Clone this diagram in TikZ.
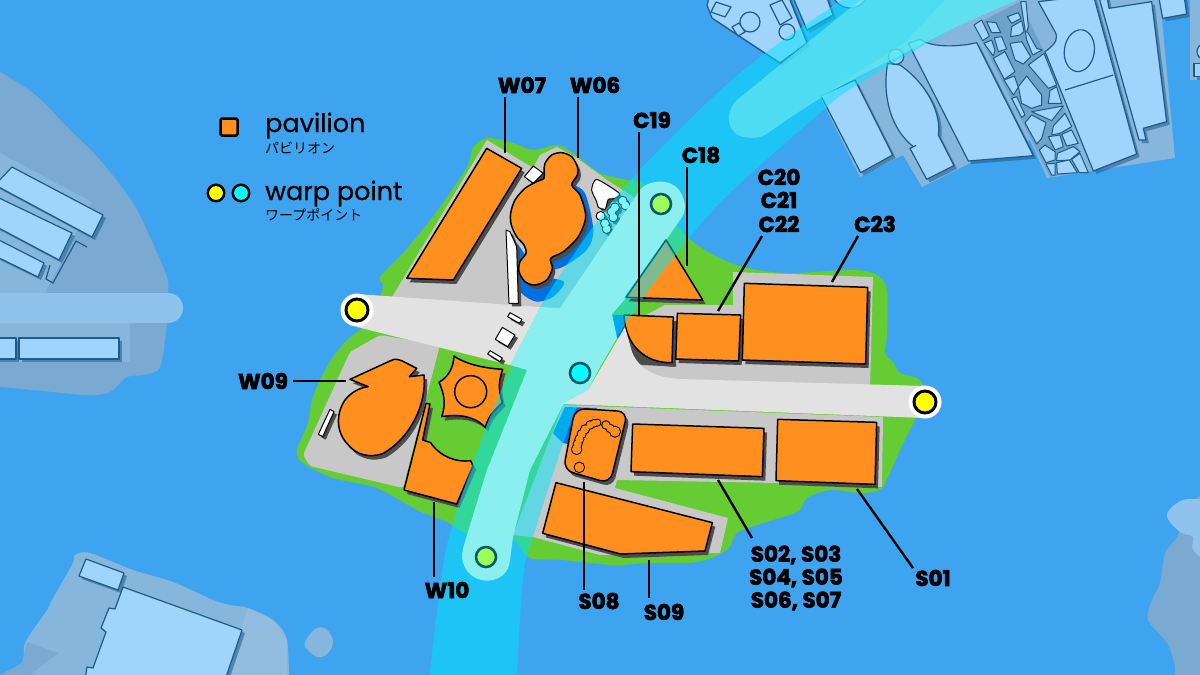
\documentclass[tikz,border=0pt]{standalone}
\usepackage{fontspec}
\setmainfont{Poppins}
\newfontfamily\labf[BoldFeatures={FakeBold=3}]{Poppins}
\newfontfamily\legf[FakeBold=0.6]{Poppins}
\newfontfamily\jpf{Noto Sans CJK JP}
\definecolor{water}{HTML}{3FA4F0}
\definecolor{grass}{HTML}{66CC33}
\definecolor{plat}{HTML}{C8C8C8}
\definecolor{roadc}{HTML}{E2E2E2}
\definecolor{orng}{HTML}{FF9020}
\definecolor{aquac}{HTML}{8AEFEE}
\definecolor{isl}{HTML}{86B6DC}
\definecolor{isld}{HTML}{7AA9D2}
\definecolor{paler}{HTML}{8FC3EC}
\definecolor{bfill}{HTML}{A0D4FA}
\definecolor{bline}{HTML}{1F5A88}
\definecolor{bandc}{HTML}{00E5FF}
\definecolor{pool}{HTML}{0070E0}
\definecolor{tealk}{HTML}{0B5A66}
\definecolor{warpcy}{HTML}{00FFFF}
\definecolor{warpye}{HTML}{FFFF00}
\definecolor{warpgr}{HTML}{9BFF5A}
\tikzset{
 z/.style args={#1/#2}{shift={(#1,#2)},x=.33333pt,y=-.33333pt},
 bsh/.style={fill=bline,fill opacity=.55,draw=none},
 bst/.style={fill=bfill,draw=bline,line width=1.2pt,line join=round},
 cellst/.style={fill=bfill,draw=bline,line width=1pt,line join=round},
 psh/.style={fill=black!70,draw=none},
 pst/.style={fill=orng,draw=black,line width=1.5pt,line join=round},
 wst/.style={fill=white,draw=black,line width=1pt,line join=round},
 leader/.style={draw=black,line width=2.4pt},
 lab/.style={font=\labf\bfseries\fontsize{21.5}{23}\selectfont,inner sep=1pt,text=black},
 warpy/.style={circle,fill=warpye,draw=black,line width=3pt,minimum size=22pt,inner sep=0pt},
 warpc/.style={circle,fill=warpcy,draw=tealk,line width=2.6pt,minimum size=20pt,inner sep=0pt},
 warpg/.style={circle,fill=warpgr,draw=tealk,line width=2.6pt,minimum size=20pt,inner sep=0pt},
 legt/.style={anchor=base west,inner sep=0pt,font=\legf\fontsize{25.5}{27}\selectfont},
 legj/.style={anchor=base west,inner sep=0pt,font=\jpf\fontsize{14}{16}\selectfont},
}
\newcommand\pl[1]{plot coordinates {#1} -- cycle}
\newcommand\bld[1]{\fill[bsh,xshift=3pt,yshift=-3pt] #1; \draw[bst] #1;}
\newcommand\pav[1]{\fill[psh,xshift=3pt,yshift=-4pt] #1; \draw[pst] #1;}
\newcommand\whb[1]{\fill[psh,xshift=3pt,yshift=-3pt] #1; \draw[wst] #1;}
\newcommand\cl[1]{\draw[cellst] \pl{#1};}
\newcommand\bandpath{plot[smooth,tension=.6] coordinates {(428,690) (441,580) (453,523) (485,430) (510,370) (540,307) (593,227) (637,173) (710,100) (763,55) (830,8) (860,-12)} -- plot[smooth,tension=.6] coordinates {(1040,-10) (960,25) (857,85) (820,113) (733,190) (690,237) (643,298) (612,345) (577,406) (533,537) (523,580) (516,690)} -- cycle}
\newcommand\lead[3]{\coordinate (s#1) at (#2); \coordinate (e#1) at (#3); \draw[leader] (s#1) -- (e#1);}
\begin{document}
\begin{tikzpicture}[x=1pt,y=-1pt]
\useasboundingbox (0,0) rectangle (1200,675);
\clip (0,0) rectangle (1200,675);
\fill[water] (0,0) rectangle (1200,675);

% west island
\fill[isld] plot[smooth,tension=.5] coordinates {(-20,60) (33,93) (67,127) (100,160) (133,203) (150,237) (167,277) (168,293) (167,323) (160,367) (143,375) (127,377) (110,392) (87,395) (33,390) (-20,385)} -- cycle;
\fill[isl] (0,153) -- (92,202) -- (45,293) -- (0,293) -- cycle;
\fill[isl] (0,323) rectangle (130,362);
\bld{\pl{(12,167) (103,215) (92,237) (-5,185)}}
\bld{\pl{(-5,196) (72,233) (59,260) (-5,226)}}
\bld{\pl{(-5,238) (44,263) (38,277) (-5,256)}}
\draw[bst,fill=none] (87,247) -- (76,241) -- (53,283) -- (46,279) -- (50,265);
\bld{\pl{(-5,338) (16,338) (16,359) (-5,359)}}
\bld{\pl{(19,338) (119,338) (119,359) (19,359)}}
\fill[paler,rounded corners=15pt] (-20,293) rectangle (183,323);

% south-west island
\fill[isl] plot[smooth,tension=.5] coordinates {(-10,680) (22,663) (25,643) (47,610) (52,600) (72,565) (75,555) (90,553) (133,570) (173,582) (213,600) (230,605) (248,608) (273,620) (287,640) (289,690)} -- cycle;
\fill[isld] (27,642) -- (58,653) -- (30,675) -- (0,675) -- (22,663) -- cycle;
\fill[isl!90!white] (248,608) -- (225,675) -- (287,675) -- (287,640) -- (273,620) -- cycle;
\bld{\pl{(86,559) (124,573) (118,590) (79,576)}}
\bld{\pl{(123,587) (242,630) (225,680) (85,680) (87,667) (93,668) (106,632) (101,628) (109,608) (115,609)}}
\fill[isl] plot[smooth cycle,tension=.8] coordinates {(306,640) (321,627) (333,642) (322,657) (308,650)};

% south-east corner island
\fill[isld] plot[smooth,tension=.5] coordinates {(1210,488) (1193,503) (1177,537) (1165,553) (1160,583) (1152,600) (1148,620) (1167,643) (1175,667) (1175,690) (1210,690)} -- cycle;
\fill[paler] plot[smooth,tension=.6] coordinates {(1210,500) (1183,500) (1167,515) (1180,532) (1193,537) (1193,550) (1210,565)} -- cycle;

% north-east islands
\fill[isl] (905,42) -- (950,-5) -- (1160,-5) -- (1162,20) -- (1175,158) -- (1047,178) -- (1030,140) -- (970,163) -- (922,187) -- (903,155) -- (860,177) -- (820,97) -- cycle;
\fill[isl] (1190,-5) rectangle (1205,80);
\bld{\pl{(707,5) (712,18) (780,63) (807,43) (788,-5) (710,-5)}}
\draw[bst] (716,2) -- (731,7) -- (725,17) -- (711,12) -- cycle;
\draw[bst] (750,22) circle (10);
\draw[bst] (732,27) -- (739,23) -- (745,32) -- (738,36) -- cycle;
\draw[bst] (770,5) -- (782,0) -- (792,18) -- (780,25) -- cycle;
\draw[bst] (787,32) circle (8);
\bld{\pl{(792,-5) (807,30) (833,15) (826,-5)}}
\draw[bst] (850,-10) circle (18);
\begin{scope}[z=700/0]
\bld{\pl{(363,288) (465,240) (578,465) (482,518)}}
\bld{(563,190) .. controls (545,290) and (575,390) .. (640,440) -- (647,437) -- (630,445) -- (680,538) -- (762,497) -- (715,405) .. controls (725,340) and (680,250) .. (600,195) -- cycle}
\draw[bst] (588,170) circle (23);
\bld{(625,130) -- (660,118) .. controls (700,145) and (780,140) .. (830,128) -- (1000,467) -- (805,483) -- cycle}
\end{scope}
\begin{scope}[z=960/0]
\fill[bline,opacity=.22] (42,75) -- (180,5) -- (250,150) -- (380,515) -- (270,530) -- cycle;
\cl{(42,75) (65,60) (88,108) (68,122)}
\cl{(80,65) (108,68) (122,98) (95,98)}
\cl{(72,130) (95,120) (105,150) (100,168)}
\cl{(103,113) (125,110) (140,147) (115,155)}
\cl{(100,175) (135,155) (165,215) (133,238)}
\cl{(132,240) (163,228) (175,262) (160,285)}
\cl{(155,295) (170,290) (195,345) (185,352)}
\cl{(150,130) (185,125) (212,170) (190,192) (165,180)}
\cl{(142,50) (175,38) (183,55) (155,70)}
\cl{(155,80) (185,62) (192,95) (180,105) (152,110)}
\cl{(182,5) (198,5) (205,80) (200,95) (205,100) (230,145) (247,150) (218,165) (200,120)}
\cl{(205,195) (252,160) (290,255) (265,265)}
\cl{(200,228) (245,285) (245,315) (215,325) (185,310) (175,260)}
\cl{(270,272) (290,260) (305,310) (265,310)}
\cl{(215,335) (310,318) (275,362)}
\cl{(195,368) (215,345) (258,368) (245,415) (230,432)}
\cl{(280,378) (315,340) (335,380) (300,400) (275,405)}
\cl{(265,410) (300,405) (310,440) (285,450)}
\cl{(305,403) (335,390) (355,430) (320,438)}
\cl{(238,450) (255,435) (285,455) (285,480) (258,488)}
\cl{(292,460) (340,440) (360,455) (330,480) (290,482)}
\cl{(258,492) (285,490) (285,525) (275,525)}
\cl{(290,488) (328,480) (352,518) (292,522)}
\cl{(335,478) (360,460) (385,518) (358,518)}
\bld{(235,5) -- (400,-15) -- (530,462) -- (400,513) -- (255,155) .. controls (290,130) and (295,115) .. (285,95) -- cycle}
\draw[bst,fill=none] (358,152) ellipse [x radius=45,y radius=63,rotate=-8];
\draw[bst] (315,270) -- (460,225);
\bld{\pl{(415,-15) (440,-15) (447,25) (575,5) (620,365) (550,385) (558,420) (537,420)}}
\bld{\pl{(595,-15) (672,-15) (680,42) (608,55)}}
\bld{\pl{(702,190) (730,190) (730,230) (702,230)}}
\draw[bst] (735,155) circle (24);
\end{scope}

% central island
\fill[grass] plot[smooth cycle,tension=.5] coordinates {(473,148) (487,138) (513,143) (533,150) (557,145) (573,153) (600,173) (627,180) (645,185) (682,232) (710,253) (743,267) (787,273) (853,270) (877,275) (887,290) (887,333) (885,353) (893,362) (900,373) (920,380) (925,400) (915,420) (900,450) (888,477) (880,490) (860,493) (830,490) (807,498) (797,512) (763,523) (737,533) (727,550) (697,562) (647,563) (613,565) (563,560) (530,558) (513,540) (470,535) (447,522) (417,510) (377,488) (333,478) (303,463) (297,450) (308,423) (312,400) (320,380) (333,357) (347,340) (370,320) (383,287) (380,277) (403,253) (420,233) (440,207) (467,167)};
% platforms
\fill[plat] (389,302) -- (487,140) -- (533,168) -- (540,155) -- (557,147) -- (577,158) -- (607,180) -- (635,198) -- (560,308) -- cycle;
\fill[plat,rounded corners=3pt] (350,352) -- (380,335) -- (440,345) -- (403,488) -- (310,466) -- (303,455) -- cycle;
\fill[plat] (563,405) -- (883,417) -- (882,487) -- (778,483) -- (617,480) -- (615,488) -- (728,518) -- (720,553) -- (600,555) -- (533,537) -- (513,535) -- cycle;
\fill[plat] (733,272) -- (873,277) -- (870,390) -- (640,385) -- (617,330) -- (665,305) -- (733,305) -- cycle;
% pools
\begin{scope}[z=340/130]
\fill[pool] plot[smooth,tension=.5] coordinates {(690,160) (735,190) (760,300) (740,360) (670,410) (630,420)} -- cycle;
\fill[pool] plot[smooth,tension=.5] coordinates {(532,340) (530,450) (545,490) (590,515) (640,500) (672,455) (600,440)} -- cycle;
\end{scope}
\fill[pool] (612,315) -- (632,315) -- (632,335) -- (617,338) -- cycle;
\fill[pool] (565,407) -- (597,408) -- (573,445) -- (563,443) -- (553,433) -- cycle;
% whites in the band
\begin{scope}[z=340/130]
\whb{plot[smooth cycle,tension=.4] coordinates {(770,148) (838,190) (825,205) (805,208) (800,225) (795,238) (775,232) (770,215) (755,180)}}
\foreach \cx/\cy in {848/212,856/226,825/232,815/245,820/262,782/258,795/280,800/297}{
  \fill[psh,xshift=3pt,yshift=-3pt] (\cx,\cy) circle (13);}
\foreach \cx/\cy in {848/212,856/226,825/232,815/245,820/262,782/258,795/280,800/297}{
  \draw[wst,line width=1.2pt] (\cx,\cy) circle (13);}
\foreach \cx/\cy in {848/212,856/226,825/232,815/245,820/262,782/258,795/280,800/297}{
  \fill[white] (\cx,\cy) circle (11.5);}
\end{scope}
% pavilions beneath the band
\begin{scope}[z=300/340]
\pav{(462,48) .. controls (500,75) and (560,85) .. (608,88) .. controls (595,125) and (595,150) .. (607,188) .. controls (590,205) and (565,225) .. (556,262) .. controls (520,225) and (470,222) .. (425,230) .. controls (440,190) and (430,155) .. (417,127) .. controls (445,110) and (460,85) .. (462,48) -- cycle}
\draw[black,line width=1.5pt] (512,155) circle (48);
\pav{(378,190) -- (390,192) -- (368,300) -- (392,308) .. controls (420,350) and (470,368) .. (512,362) -- (519,378) -- (470,492) -- (312,450) -- cycle}
\end{scope}
\begin{scope}[z=600/180]
\fill[psh] (76,440) -- (78,520) .. controls (82,545) and (100,552) .. (130,555) -- (228,560) -- (228,530) -- cycle;
\pav{(72,405) -- (220,411) -- (216,548) .. controls (130,550) and (75,490) .. (72,405) -- cycle}
\end{scope}

% translucent band
\fill[bandc,opacity=.5] \bandpath;
% light strip
\fill[aquac!85!cyan,opacity=.55] (768,133) .. controls (800,110) and (830,92) .. (857,77) -- (960,25) -- (1017,0) -- (860,0) -- (737,100) .. controls (722,115) and (730,137) .. (745,137) .. controls (752,139) and (762,138) .. (768,133) -- cycle;
% aqua track
\fill[aquac] (462,557) .. controls (462,550) and (464,545) .. (467,535) -- (487,470) -- (527,370) -- (510,365) -- (540,307) -- (560,308) -- (640,190) .. controls (650,178) and (675,178) .. (682,195) .. controls (686,205) and (686,212) .. (682,217) -- (627,297) -- (612,314) -- (617,338) -- (600,367) -- (588,390) -- (563,405) -- (530,470) -- (513,537) -- (510,560) .. controls (508,588) and (465,588) .. (462,557) -- cycle;
% roads
\fill[roadc] (357,294) -- (540,307) -- (510,365) -- (357,327) -- cycle;
\fill[roadc] (357,310) circle (16);
\fill[roadc] (625,327) -- (632,352) .. controls (640,372) and (660,378) .. (680,379) -- (925,386) -- (925,418) -- (563,404) -- (588,390) -- cycle;
\fill[roadc] (925,402) circle (16);
% small whites on the road
\begin{scope}[z=340/130]
\whb{\pl{(510,548) (546,568) (538,580) (503,560)}}
\whb{\pl{(487,592) (525,615) (503,650) (466,628)}}
\whb{\pl{(450,662) (487,684) (480,695) (443,672)}}
\whb{\pl{(498,300) (510,305) (530,350) (535,520) (507,520)}}
\whb{\pl{(580,108) (610,130) (580,160) (553,140)}}
\pav{\pl{(440,55) (545,115) (340,450) (200,445)}}
\pav{plot[smooth cycle,tension=.5] coordinates {(612,125) (615,100) (635,75) (665,68) (695,80) (712,110) (712,135) (695,165) (720,195) (737,260) (715,320) (670,365) (632,385) (637,415) (620,450) (585,465) (555,455) (537,425) (540,395) (558,370) (552,345) (530,320) (514,285) (512,250) (525,210) (555,175) (590,155) (612,145)}}
\end{scope}
\begin{scope}[z=300/340]
\pav{(150,118) -- (272,62) .. controls (285,55) and (295,58) .. (305,62) -- (350,85) -- (328,110) -- (372,105) .. controls (380,190) and (335,290) .. (250,340) .. controls (210,355) and (170,345) .. (145,315) .. controls (110,280) and (105,225) .. (135,180) .. controls (155,155) and (180,143) .. (205,140) -- cycle}
\whb{\pl{(90,208) (102,215) (68,290) (55,283)}}
\end{scope}
\begin{scope}[z=530/390]
\pav{[rounded corners=10pt] (135,55) -- (293,65) -- (240,280) -- (100,240) -- cycle}
\foreach \cx/\cy/\r in {140/178/15,143/162/13,148/148/13,155/132/13,165/118/13,180/105/12,192/100/11,202/98/10,228/105/12,240/115/12,255/125/16,148/232/15}{\draw[black,line width=1.4pt] (\cx,\cy) circle (\r);}
\foreach \cx/\cy/\r in {140/178/15,143/162/13,148/148/13,155/132/13,165/118/13,180/105/12,192/100/11,202/98/10,228/105/12,240/115/12,255/125/16,148/232/15}{\fill[orng] (\cx,\cy) circle (\r-1);}
\pav{\pl{(308,102) (702,115) (697,260) (303,245)}}
\pav{\pl{(743,88) (1040,97) (1035,283) (738,272)}}
\pav{\pl{(78,278) (547,398) (525,483) (272,492) (38,430)}}
\end{scope}
\begin{scope}[z=600/180]
\pav{\pl{(232,400) (422,405) (416,543) (227,537)}}
\pav{\pl{(433,310) (803,322) (797,552) (427,540)}}
\pav{\pl{(198,180) (308,360) (78,352)}}
\begin{scope}
\clip (198,176) -- (315,364) -- (70,356) -- cycle;
\fill[bandc,opacity=.5,x=1pt,y=-1pt,shift={(-600,-180)}] \bandpath;
\end{scope}
\end{scope}

% warp points
\node[circle,fill=white,minimum size=33pt,inner sep=0] at (357,310) {};
\node[circle,fill=white,minimum size=33pt,inner sep=0] at (925,402) {};
\node[warpy] (wa) at (357,310) {};
\node[warpy] (wb) at (925,402) {};
\node[warpc] (wc) at (580,373) {};
\node[warpg] (wd) at (661,204) {};
\node[warpg] (we) at (486,557) {};

% labels
\node[lab] (lW07) at (522,85) {W07};
\node[lab] (lW06) at (595,85) {W06};
\node[lab] (lC19) at (652,120) {C19};
\node[lab] (lC18) at (701,155) {C18};
\node[lab] (lC20) at (779,177) {C20};
\node[lab] (lC21) at (779,200) {C21};
\node[lab] (lC22) at (779,224) {C22};
\node[lab] (lC23) at (875,224) {C23};
\node[lab] (lW09) at (263,381) {W09};
\node[lab] (lW10) at (447,590) {W10};
\node[lab] (lS08) at (599,601) {S08};
\node[lab] (lS09) at (664,612) {S09};
\node[lab] (lS01) at (933,578) {S01};
\node[lab] (lS02) at (796,555) {S02, S03};
\node[lab] (lS04) at (796,578) {S04, S05};
\node[lab] (lS06) at (796,601) {S06, S07};
\lead{a}{505,97}{505,153}
\lead{b}{578,97}{578,158}
\lead{c}{639,132}{639,316}
\lead{d}{687,167}{687,266}
\lead{f}{762,236}{718,311}
\lead{g}{858,236}{832,282}
\lead{h}{293,381}{346,381}
\lead{i}{434,502}{434,577}
\lead{j}{584,482}{584,590}
\lead{k}{649,560}{649,598}
\lead{m}{718,480}{752,538}
\lead{n}{857,489}{913,568}

% legend
\node[draw=black,line width=2.5pt,fill=orng,rounded corners=1.5pt,minimum size=17pt,inner sep=0] (lsq) at (229,127) {};
\node[warpy,minimum size=16.5pt,line width=2.5pt] (ly) at (216,193) {};
\node[warpy,fill=warpcy,minimum size=16.5pt,line width=2.5pt] (lc) at (241,193) {};
\node[legt] (t1) at (265,132) {pavilion};
\node[legj] (t2) at (265,153) {パビリオン};
\node[legt] (t3) at (265,200) {warp point};
\node[legj] (t4) at (265,220.5) {ワープポイント};
\end{tikzpicture}
\end{document}
